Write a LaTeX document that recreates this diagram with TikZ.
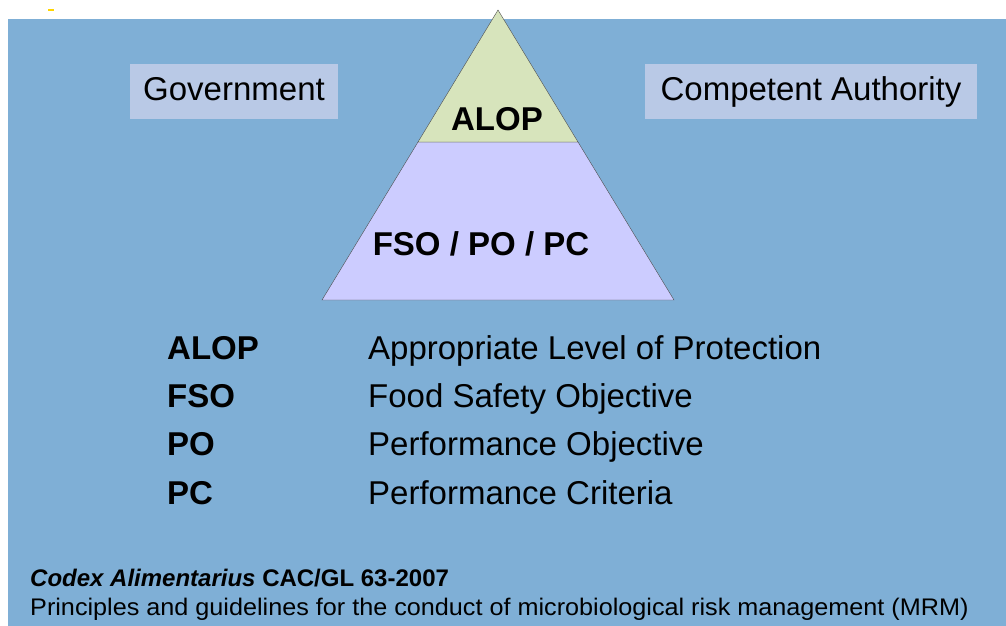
\documentclass[tikz,border=0pt]{standalone}
\usepackage{fontspec}
\setmainfont{Liberation Sans}
\usepackage{tikz}
\usetikzlibrary{positioning}

\definecolor{slideblue}{HTML}{7FAFD6}
\definecolor{boxblue}{HTML}{B9C9E6}
\definecolor{topgreen}{HTML}{D7E4BC}
\definecolor{lowlilac}{HTML}{CCCCFF}
\definecolor{speck}{HTML}{FFD500}

\begin{document}
\begin{tikzpicture}[x=1pt, y=-1pt,
                    party/.style={fill=boxblue, inner sep=0pt, minimum height=55pt,
                                  text height=24pt, text depth=7pt,
                                  font=\fontsize{33}{38}\selectfont},
                    level/.style={anchor=base, inner sep=0pt,
                                  font=\fontsize{33}{38}\selectfont\bfseries},
                    term/.style={anchor=base west, inner sep=0pt,
                                 font=\fontsize{33}{38}\selectfont\bfseries},
                    meaning/.style={anchor=base west, inner sep=0pt,
                                    font=\fontsize{33}{38}\selectfont},
                    source/.style={anchor=base west, inner sep=0pt,
                                   font=\fontsize{24}{28}\selectfont}]

    \useasboundingbox (0,0) rectangle (1006,626);
    \fill[slideblue] (8,19) rectangle (1006,626);
    \draw[speck, line width=1.5pt] (48,10) -- (54,10);

    % pyramid
    \coordinate (top) at (498,10);
    \coordinate (bl) at (322,300);
    \coordinate (br) at (674,300);
    \coordinate (ml) at (418,142);
    \coordinate (mr) at (578,142);
    \filldraw[fill=lowlilac, draw=black!70] (ml) -- (mr) -- (br) -- (bl) -- cycle;
    \filldraw[fill=topgreen, draw=black!70] (top) -- (mr) -- (ml) -- cycle;
    \node (alop) [level] at (497,130) {ALOP};
    \node (fso) [level] at (481,255) {FSO / PO / PC};

    % who sets it
    \node (gov) [party, minimum width=208pt] at (234,91.5) {Government};
    \node (ca) [party, minimum width=332pt] at (811,91.5) {Competent Authority};

    % legend
    \node (t1) [term] at (167,359) {ALOP};
    \node (t2) [term] at (167,407) {FSO};
    \node (t3) [term] at (167,455) {PO};
    \node (t4) [term] at (167,504) {PC};
    \node (m1) [meaning] at (368,359) {Appropriate Level of Protection};
    \node (m2) [meaning] at (368,407) {Food Safety Objective};
    \node (m3) [meaning] at (368,455) {Performance Objective};
    \node (m4) [meaning] at (368,504) {Performance Criteria};

    % source
    \node (codex) [source] at (30,586) {\bfseries\textit{Codex Alimentarius} CAC/GL 63-2007};
    \node (mrm) [source] at (30,615) {\scalebox{1.05}[1]{Principles and guidelines for the conduct of microbiological risk management (MRM)}};
\end{tikzpicture}
\end{document}
